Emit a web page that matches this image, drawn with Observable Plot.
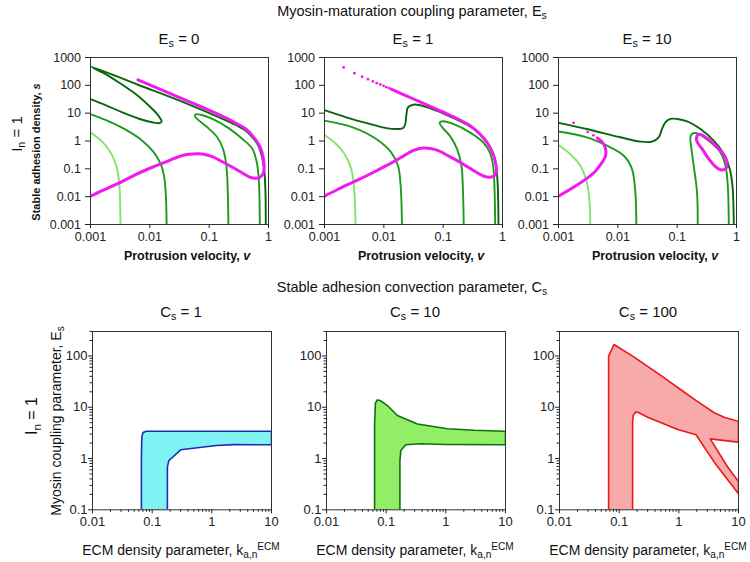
<!DOCTYPE html>
<html><head><meta charset="utf-8">
<script src="https://cdn.jsdelivr.net/npm/d3@7"></script>
<script src="https://cdn.jsdelivr.net/npm/@observablehq/plot@0.6"></script>
<style>
body{margin:0;background:#fff}
#c{position:relative;width:750px;height:562px;overflow:hidden;font-family:'Liberation Sans',Arial,sans-serif;color:#111;background:#fff}
.t{position:absolute;white-space:nowrap;transform:translate(-50%,-50%);line-height:1}
.r{transform:translate(-50%,-50%) rotate(-90deg)}
.s{font-size:0.72em;position:relative;top:0.32em}
.p{font-size:0.72em;position:relative;top:-0.5em}
.b{font-weight:bold}
</style></head>
<body><div id="c"></div>
<script>
// ---------- tick values ----------
const vTicks = [0.001, 0.01, 0.1, 1];
const sTicks = [0.001, 0.01, 0.1, 1, 10, 100, 1000];
const kTicks = [0.01, 0.1, 1, 10];
const eTicks = [0.1, 1, 10, 100];

// ---------- Top row: E_s = 0 ----------
const es0Dark = [[0.90,0.001],[0.889,0.0145],[0.855,0.075],[0.811,0.172],[0.742,0.39],[0.651,0.78],[0.536,1.36],[0.414,2.35],[0.281,3.76],[0.147,7.1],[0.040,23],[0.0063,105],[0.00104,462],[0.00179,253],[0.0030,127],[0.00576,48.5],[0.00966,18.5],[0.0133,9.3],[0.0152,6.2],[0.0158,5.1],[0.0146,4.4],[0.011,4.7],[0.00655,6.3],[0.00343,10.7],[0.00179,19.6],[0.001,32]];
const es0Mid = [[0.001,9.3],[0.00179,5.7],[0.0039,2.55],[0.00745,1.03],[0.0117,0.39],[0.0152,0.15],[0.0173,0.057],[0.0185,0.0145],[0.0192,0.001]];
const es0Tongue = [[0.211,0.001],[0.206,0.0145],[0.195,0.131],[0.171,0.52],[0.137,1.36],[0.0933,3.1],[0.0675,5.4],[0.0577,7.7],[0.0593,9.1],[0.072,8.8],[0.113,6.2],[0.216,2.85],[0.364,1.18],[0.536,0.52],[0.634,0.172],[0.686,0.044],[0.705,0.0084],[0.713,0.001]];
const es0Light = [[0.001,2.05],[0.00157,0.95],[0.00218,0.39],[0.00271,0.131],[0.0030,0.044],[0.00313,0.011],[0.0032,0.001]];
const es0Mag = [[0.0063,158],[0.040,29.6],[0.147,8.8],[0.281,4.4],[0.414,2.7],[0.536,1.56],[0.651,0.90],[0.742,0.52],[0.811,0.26],[0.844,0.131],[0.832,0.08],[0.77,0.057],[0.677,0.047],[0.572,0.046],[0.471,0.051],[0.364,0.071],[0.247,0.114],[0.167,0.18],[0.113,0.275],[0.0767,0.34],[0.052,0.34],[0.0353,0.30],[0.021,0.198],[0.011,0.114],[0.00576,0.062],[0.0030,0.0305],[0.00157,0.0166],[0.001,0.0104]];

// ---------- Top row: E_s = 1 ----------
const es1Dark = [[0.001,12.8],[0.00232,7.1],[0.00576,4.1],[0.011,2.9],[0.0173,2.7],[0.021,2.85],[0.023,4.1],[0.0239,8.1],[0.0255,16.1],[0.031,20.1],[0.040,19.6],[0.0767,12.3],[0.147,6.7],[0.281,3.37],[0.414,1.8],[0.572,0.78],[0.713,0.30],[0.79,0.1],[0.832,0.025],[0.855,0.001]];
const es1Mid = [[0.001,5.4],[0.0030,3.1],[0.00745,1.18],[0.0133,0.39],[0.0173,0.131],[0.0192,0.025],[0.0202,0.001]];
const es1Light = [[0.001,1.64],[0.00157,0.78],[0.00218,0.34],[0.00282,0.0995],[0.00313,0.025],[0.00334,0.001]];
const es1Tongue = [[0.222,0.001],[0.216,0.0145],[0.203,0.131],[0.171,0.52],[0.129,1.56],[0.0933,3.37],[0.0873,4.7],[0.10,5.1],[0.147,4.1],[0.281,2.05],[0.471,0.90],[0.61,0.39],[0.695,0.131],[0.731,0.025],[0.752,0.001]];
const es1Mag = [[0.0133,73],[0.024,42],[0.040,25.8],[0.0767,14.1],[0.147,7.5],[0.281,3.6],[0.414,1.8],[0.572,0.78],[0.695,0.34],[0.77,0.15],[0.79,0.087],[0.731,0.057],[0.618,0.05],[0.502,0.053],[0.364,0.075],[0.216,0.15],[0.129,0.275],[0.0767,0.48],[0.046,0.56],[0.031,0.45],[0.0185,0.24],[0.011,0.13],[0.00576,0.064],[0.0030,0.033],[0.00157,0.017],[0.001,0.0104]];
const es1MagDots = [[0.0021,440],[0.0032,274],[0.0043,203],[0.0054,167],[0.00655,138],[0.0076,120],[0.0087,108],[0.0099,96],[0.011,86],[0.0122,80]];

// ---------- Top row: E_s = 10 ----------
const es10Dark = [[0.001,4.5],[0.0030,2.7],[0.011,1.36],[0.0239,0.95],[0.0377,0.95],[0.0488,1.36],[0.0555,2.7],[0.0633,4.7],[0.0767,6.2],[0.10,6.2],[0.147,5.1],[0.247,2.7],[0.414,1.03],[0.61,0.34],[0.77,0.0995],[0.855,0.025],[0.90,0.001]];
const es10Mid = [[0.001,2.2],[0.0030,1.36],[0.00655,0.68],[0.0125,0.30],[0.0173,0.0995],[0.0197,0.0145],[0.0205,0.001]];
const es10Light = [[0.001,0.72],[0.00157,0.34],[0.00232,0.131],[0.0030,0.033],[0.00334,0.0064],[0.00343,0.001]];
const es10Tongue = [[0.222,0.001],[0.216,0.0145],[0.19,0.131],[0.171,0.68],[0.167,1.36],[0.178,1.8],[0.216,1.9],[0.364,0.90],[0.536,0.39],[0.651,0.131],[0.713,0.025],[0.742,0.001]];
const es10MagLeft = [[0.001,0.0104],[0.00232,0.031],[0.0039,0.071],[0.0052,0.15],[0.0061,0.26],[0.0063,0.39],[0.0061,0.59],[0.0056,0.85],[0.0049,1.12],[0.0045,1.3]];
const es10MagDots = [[0.0018,4.5],[0.0031,2.1],[0.0039,1.6]];
const es10MagLoop = [[0.211,1.25],[0.222,1.64],[0.253,1.69],[0.319,1.25],[0.414,0.78],[0.536,0.45],[0.651,0.26],[0.695,0.15],[0.651,0.0995],[0.536,0.092],[0.442,0.12],[0.34,0.227],[0.263,0.52],[0.222,0.85]];

// ---------- Bottom row: regions ----------
const cs1Region = [[0.066,0.1],[0.066,1],[0.067,2.6],[0.070,3.2],[0.08,3.4],[10,3.4],[10,1.85],[2.3,1.87],[1.2,1.79],[0.3,1.48],[0.22,1.06],[0.19,0.91],[0.18,0.68],[0.18,0.1]];
const cs10Region = [[0.064,0.1],[0.064,5],[0.066,12],[0.071,13.9],[0.08,13.5],[0.105,10.8],[0.154,6.9],[0.334,4.7],[1.07,3.8],[3,3.55],[10,3.4],[10,1.85],[1,1.88],[0.38,1.94],[0.213,1.85],[0.176,1.43],[0.17,0.91],[0.17,0.1]];
const cs100Region = [[0.0665,0.1],[0.0665,99],[0.082,167],[0.181,94],[0.505,41.5],[1.24,19.6],[2.07,12.9],[3.92,7.8],[5.75,6.4],[10,5.3],[10,2.08],[3.36,2.42],[6.5,0.7],[10,0.357],[10,0.205],[3.92,0.85],[1.94,2.9],[0.955,3.67],[0.505,4.96],[0.30,6.4],[0.206,8.0],[0.19,8.1],[0.172,7.0],[0.168,5.0],[0.168,0.1]];

// ---------- colours ----------
const DARK = "#0a650c", MID = "#1f9a1f", LIGHT = "#84e36a", MAG = "#f01af0";

const C = document.getElementById("c");
const fmt = d => String(d);
const X = d => d[0], Y = d => d[1];

function minor(decades, extra) {
  const out = [];
  for (const d of decades) for (let k = 2; k <= 9; k++) out.push(+(d * k).toPrecision(3));
  return out.concat(extra || []);
}

function panel(o) {
  const ML = 50, MR = 8, MT = 6, MB = 26;
  const axes = [
    Plot.axisX({ticks: o.xt, tickSize: o.xts, tickPadding: o.xtp, tickFormat: fmt, label: null, fontSize: o.fs}),
    Plot.axisY({ticks: o.yt, tickSize: o.yts, tickPadding: o.ytp, tickFormat: fmt, label: null, fontSize: o.fs})
  ];
  if (o.xm) axes.push(Plot.axisX({ticks: o.xm, tickSize: 2.5, tickFormat: () => "", label: null}));
  if (o.ym) axes.push(Plot.axisY({ticks: o.ym, tickSize: 2.5, tickFormat: () => "", label: null}));
  const svg = Plot.plot({
    width: o.iw + ML + MR, height: o.ih + MT + MB,
    marginLeft: ML, marginRight: MR, marginTop: MT, marginBottom: MB,
    x: {type: "log", domain: o.xd},
    y: {type: "log", domain: o.yd},
    style: {fontFamily: "'Liberation Sans', Arial, sans-serif", color: "#222", background: "transparent", overflow: "visible"},
    marks: [...o.marks, Plot.frame({stroke: "#333", strokeWidth: 1}), ...axes]
  });
  svg.style.position = "absolute";
  svg.style.left = (o.left - ML) + "px";
  svg.style.top = (o.top - MT) + "px";
  C.append(svg);
}

const ln = (data, stroke, w, curve) => Plot.line(data, {x: X, y: Y, stroke, strokeWidth: w, curve: curve || "catmull-rom", clip: true});
const dots = (data) => Plot.dot(data, {x: X, y: Y, r: 1.4, fill: MAG, stroke: "none", clip: true});

const topCommon = {top: 57, iw: 178, ih: 167, xd: [0.001, 1], yd: [0.001, 1000], xt: vTicks, yt: sTicks, fs: 12.5, xts: 4, xtp: 3.5, yts: 5, ytp: 4.5};

panel({...topCommon, left: 90, marks: [
  ln(es0Light, LIGHT, 1.9), ln(es0Mid, MID, 1.9), ln(es0Tongue, MID, 1.9), ln(es0Dark, DARK, 1.9), ln(es0Mag, MAG, 3)
]});
panel({...topCommon, left: 324, marks: [
  ln(es1Light, LIGHT, 1.9), ln(es1Mid, MID, 1.9), ln(es1Tongue, MID, 1.9), ln(es1Dark, DARK, 1.9), ln(es1Mag, MAG, 3), dots(es1MagDots)
]});
panel({...topCommon, left: 558, marks: [
  ln(es10Light, LIGHT, 1.9), ln(es10Mid, MID, 1.9), ln(es10Tongue, MID, 1.9), ln(es10Dark, DARK, 1.9),
  ln(es10MagLeft, MAG, 3), dots(es10MagDots), ln(es10MagLoop, MAG, 3, "catmull-rom-closed")
]});

const xMinor = minor([0.01, 0.1, 1]);
const yMinor = minor([0.1, 1, 10], [200, 300]);
const botCommon = {top: 331, iw: 179, ih: 178.3, xd: [0.01, 10], yd: [0.1, 300], xt: kTicks, yt: eTicks, xm: xMinor, ym: yMinor, fs: 13, xts: 4, xtp: 3, yts: 4, ytp: 1};
const region = (data, fill, stroke) => Plot.line(data, {x: X, y: Y, fill, stroke, strokeWidth: 1.6, curve: "linear-closed", clip: true});

panel({...botCommon, left: 92, marks: [region(cs1Region, "#80f4f4", "#1e2bb8")]});
panel({...botCommon, left: 326, marks: [region(cs10Region, "#92ee66", "#0e700e")]});
panel({...botCommon, left: 558.5, marks: [region(cs100Region, "#f8a9a9", "#e81a1a")]});

// ---------- text ----------
const texts = [
  [412, 11, 14.5, "", "Myosin-maturation coupling parameter, E<span class='s'>s</span>"],
  [179, 38, 15, "", "E<span class='s'>s</span> = 0"],
  [413, 38, 15, "", "E<span class='s'>s</span> = 1"],
  [647, 38, 15, "", "E<span class='s'>s</span> = 10"],
  [16, 134, 15, "r", "I<span class='s'>n</span> = 1"],
  [35.5, 152, 11, "r b", "Stable adhesion density, <i>s</i>"],
  [187, 256, 12.5, "b", "Protrusion velocity, <i>v</i>"],
  [421, 256, 12.5, "b", "Protrusion velocity, <i>v</i>"],
  [655, 256, 12.5, "b", "Protrusion velocity, <i>v</i>"],
  [412, 287, 14.5, "", "Stable adhesion convection parameter, C<span class='s'>s</span>"],
  [181, 311, 15, "", "C<span class='s'>s</span> = 1"],
  [415, 311, 15, "", "C<span class='s'>s</span> = 10"],
  [648, 311, 15, "", "C<span class='s'>s</span> = 100"],
  [32, 416, 16, "r", "I<span class='s'>n</span> = 1"],
  [56, 421, 14, "r", "Myosin coupling parameter, E<span class='s'>s</span>"],
  [181, 550, 14, "", "ECM density parameter, k<span class='s'>a,n</span><span class='p'>ECM</span>"],
  [415, 550, 14, "", "ECM density parameter, k<span class='s'>a,n</span><span class='p'>ECM</span>"],
  [648, 550, 14, "", "ECM density parameter, k<span class='s'>a,n</span><span class='p'>ECM</span>"]
];
for (const [x, y, fs, cls, html] of texts) {
  const d = document.createElement("div");
  d.className = "t " + cls;
  d.style.left = x + "px"; d.style.top = y + "px"; d.style.fontSize = fs + "px";
  d.innerHTML = html;
  C.append(d);
}
</script></body></html>
